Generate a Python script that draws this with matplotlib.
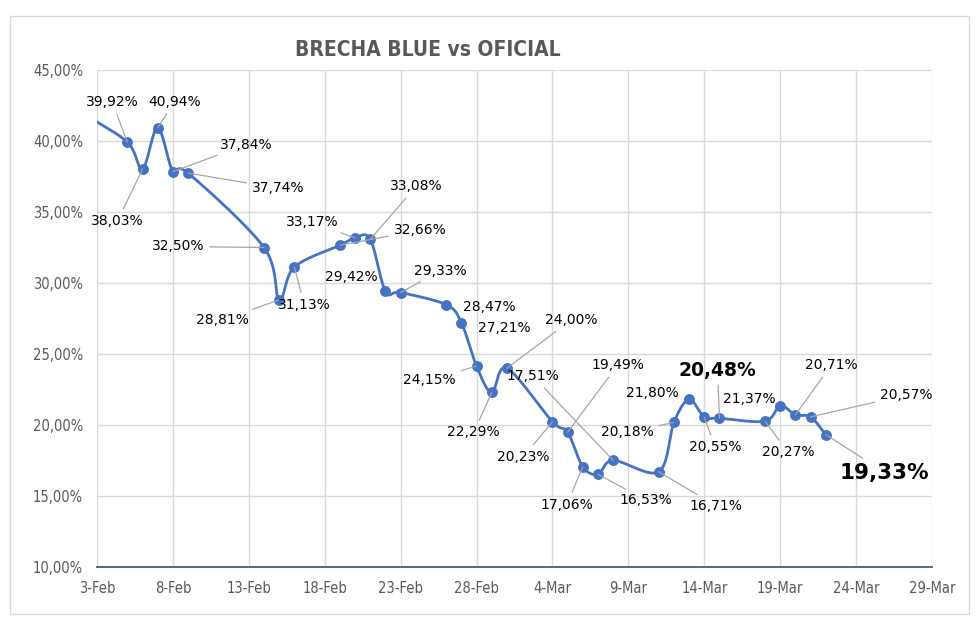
import numpy as np
import matplotlib
matplotlib.use("Agg")
import matplotlib.pyplot as plt
import matplotlib.dates as mdates
from matplotlib.patches import Rectangle
import datetime as dt

# datos
fechas = ["2024-02-02", "2024-02-05", "2024-02-06", "2024-02-07", "2024-02-08", "2024-02-09",
          "2024-02-14", "2024-02-15", "2024-02-16", "2024-02-19", "2024-02-20", "2024-02-21",
          "2024-02-22", "2024-02-23", "2024-02-26", "2024-02-27", "2024-02-28", "2024-02-29",
          "2024-03-01", "2024-03-04", "2024-03-05", "2024-03-06", "2024-03-07", "2024-03-08",
          "2024-03-11", "2024-03-12", "2024-03-13", "2024-03-14", "2024-03-15", "2024-03-18",
          "2024-03-19", "2024-03-20", "2024-03-21", "2024-03-22"]
brecha = [42.0, 39.92, 38.03, 40.94, 37.84, 37.74,
          32.50, 28.81, 31.13, 32.66, 33.17, 33.08,
          29.42, 29.33, 28.47, 27.21, 24.15, 22.29,
          24.00, 20.23, 19.49, 17.06, 16.53, 17.51,
          16.71, 20.18, 21.80, 20.55, 20.48, 20.27,
          21.37, 20.71, 20.57, 19.33]

ticks_x = ["2024-02-03", "2024-02-08", "2024-02-13", "2024-02-18", "2024-02-23", "2024-02-28",
           "2024-03-04", "2024-03-09", "2024-03-14", "2024-03-19", "2024-03-24", "2024-03-29"]
ticks_x_txt = ["3-Feb", "8-Feb", "13-Feb", "18-Feb", "23-Feb", "28-Feb",
               "4-Mar", "9-Mar", "14-Mar", "19-Mar", "24-Mar", "29-Mar"]
ticks_y = [10, 15, 20, 25, 30, 35, 40, 45]
ticks_y_txt = ["10,00%", "15,00%", "20,00%", "25,00%", "30,00%", "35,00%", "40,00%", "45,00%"]

# etiquetas: indice del punto, desplazamiento (px), con linea guia, estilo
etiquetas = [
    (1, (-15, 40), True, 0), (2, (-25, -52), True, 0), (3, (17, 26), True, 0),
    (4, (73, 27), True, 0), (5, (90, -15), True, 0), (6, (-86, 1), True, 0),
    (7, (-57, -20), True, 0), (8, (10, -38), True, 0), (9, (80, 15), True, 0),
    (10, (-43, 16), True, 0), (11, (46, 53), True, 0), (12, (-34, 14), False, 0),
    (13, (40, 22), True, 0), (14, (43, -2), False, 0), (15, (43, -5), False, 0),
    (16, (-47, -14), True, 0), (17, (-18, -40), True, 0), (18, (64, 48), True, 0),
    (19, (-29, -35), True, 0), (20, (50, 67), True, 0), (21, (-16, -38), True, 0),
    (22, (48, -26), True, 0), (23, (-80, 84), True, 0), (24, (57, -34), True, 0),
    (25, (-47, -10), True, 0), (26, (-37, 6), False, 0), (27, (11, -30), True, 0),
    (28, (-2, 48), True, 1), (29, (23, -31), True, 0), (30, (-31, 7), False, 0),
    (31, (36, 50), True, 0), (32, (96, 22), True, 0), (33, (59, -38), True, 2),
]

azul = "#4472C4"
gris = "#595959"

plt.rcParams['font.family'] = ['DejaVu Sans']
fuente_ejes = ['DejaVu Sans']

x = mdates.date2num([dt.datetime.strptime(f, "%Y-%m-%d") for f in fechas])
y = np.array(brecha)

# suavizado tipo excel (catmull-rom)
def suavizar(x, y, n=20):
    px = np.concatenate([[2 * x[0] - x[1]], x, [2 * x[-1] - x[-2]]])
    py = np.concatenate([[2 * y[0] - y[1]], y, [2 * y[-1] - y[-2]]])
    xs, ys = [], []
    t = np.linspace(0, 1, n)
    for i in range(1, len(px) - 2):
        p0, p1, p2, p3 = px[i - 1], px[i], px[i + 1], px[i + 2]
        q0, q1, q2, q3 = py[i - 1], py[i], py[i + 1], py[i + 2]
        b1x, b1y = p1 + (p2 - p0) / 6, q1 + (q2 - q0) / 6
        b2x, b2y = p2 - (p3 - p1) / 6, q2 - (q3 - q1) / 6
        xs.append((1 - t) ** 3 * p1 + 3 * (1 - t) ** 2 * t * b1x + 3 * (1 - t) * t ** 2 * b2x + t ** 3 * p2)
        ys.append((1 - t) ** 3 * q1 + 3 * (1 - t) ** 2 * t * b1y + 3 * (1 - t) * t ** 2 * b2y + t ** 3 * q2)
    return np.concatenate(xs), np.concatenate(ys)

fig = plt.figure(figsize=(9.8, 6.17), dpi=100)
ax = fig.add_axes([97 / 980, 1 - 567 / 617, (932 - 97) / 980, (567 - 70) / 617])

sx, sy = suavizar(x, y)
ax.plot(sx, sy, color=azul, lw=2.0, zorder=3, solid_capstyle='round')
ax.plot(x, y, 'o', color=azul, ms=6.8, zorder=4)

tx = mdates.date2num([dt.datetime.strptime(f, "%Y-%m-%d") for f in ticks_x])
ax.set_xlim(tx[0], tx[-1])
ax.set_ylim(10, 45)
ax.set_xticks(tx)
ax.set_xticklabels(ticks_x_txt, family=fuente_ejes, fontstretch='condensed', fontsize=10.5, color=gris)
ax.set_yticks(ticks_y)
ax.set_yticklabels(ticks_y_txt, family=fuente_ejes, fontstretch='condensed', fontsize=10.5, color=gris)
ax.tick_params(length=0, pad=10)
ax.grid(True, color="#D9D9D9", lw=1)
ax.set_axisbelow(True)
for s in ["top", "right", "left"]:
    ax.spines[s].set_visible(False)
ax.spines["bottom"].set_color("#4A5A78")
ax.spines["bottom"].set_linewidth(1.3)

for idx, (dx, dy), guia, estilo in etiquetas:
    texto = f"{brecha[idx]:.2f}%".replace(".", ",")
    if estilo == 0:
        kw = dict(fontsize=10, color="black")
    elif estilo == 1:
        kw = dict(fontsize=13.5, fontweight="bold", color="black")
    else:
        kw = dict(fontsize=15.5, fontweight="bold", color="black")
    ap = dict(arrowstyle='-', color="#A6A6A6", lw=0.9, shrinkA=2, shrinkB=0) if guia else None
    ax.annotate(texto, (x[idx], y[idx]), xytext=(dx, dy), textcoords='offset pixels',
                ha='center', va='center', arrowprops=ap, zorder=5, **kw)

fig.text(428 / 980, 1 - 50 / 617, "BRECHA BLUE vs OFICIAL", ha='center', va='center',
         fontsize=15, fontweight='bold', fontstretch='condensed', color=gris, family=fuente_ejes)

fig.patches.append(Rectangle((10 / 980, 1 - 614 / 617), 959 / 980, 598 / 617, transform=fig.transFigure,
                             fill=False, edgecolor="#D9D9D9", lw=1))

fig.savefig("out.png", dpi=100)
